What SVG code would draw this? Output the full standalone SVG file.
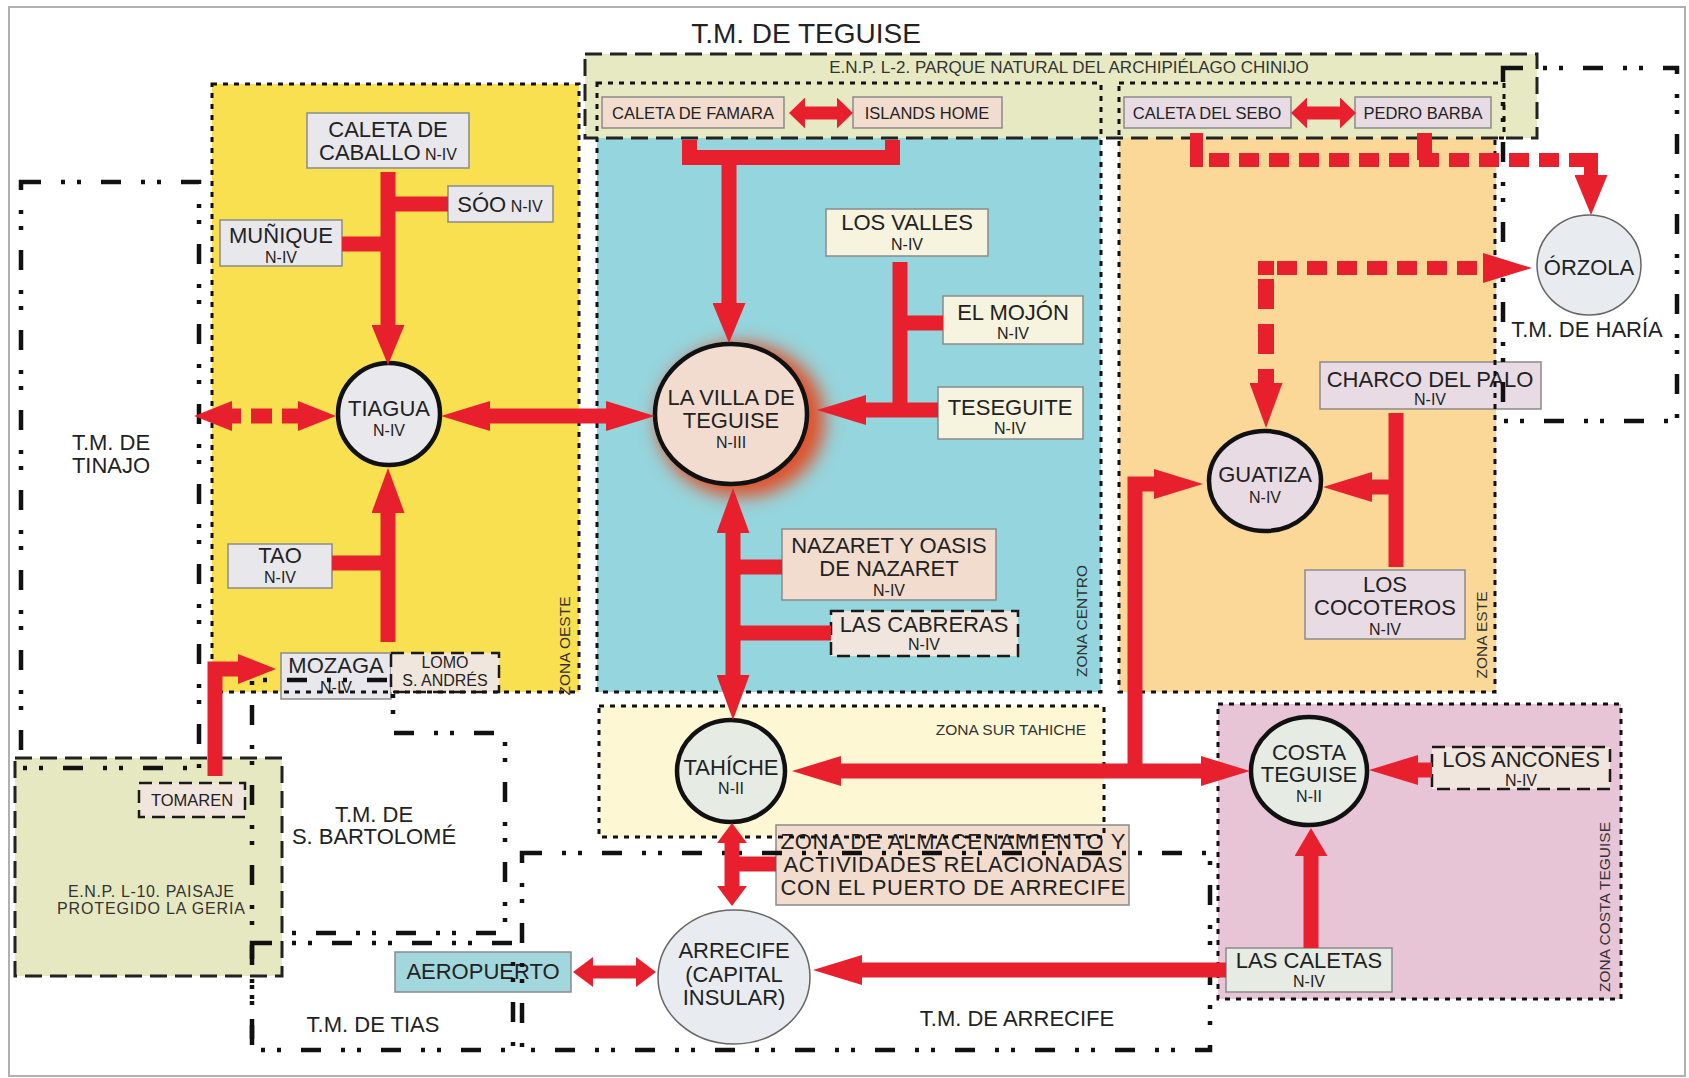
<svg xmlns="http://www.w3.org/2000/svg" width="1689" height="1078" viewBox="0 0 1689 1078">
<defs>
<style>
.t{font-family:"Liberation Sans",Arial,sans-serif;fill:#222;text-anchor:middle;font-size:22px}
.s{font-size:16px}
.m{font-size:16.5px}
.z{font-family:"Liberation Sans",Arial,sans-serif;fill:#333;font-size:15.5px;text-anchor:middle}
.box{stroke:#8a8a8a;stroke-width:1.5}
.dbox{stroke:#1a1a1a;stroke-width:2.5;stroke-dasharray:13 7}
.circ{stroke:#111;stroke-width:4.5}
.thin{stroke:#666;stroke-width:1.5}
.gray{fill:#e8e7ec}.cream{fill:#f6f3de}.peach{fill:#f2dccd}.lpeach{fill:#f1e6dd}
.pink{fill:#e9dbe4}.green{fill:#e6ece4}.teal{fill:#a3d7de}.blue{fill:#e8ecf0}
.zb{fill:none;stroke:#111;stroke-width:3;stroke-dasharray:5 6}
.mb{fill:none;stroke:#111;stroke-width:4.5;stroke-dasharray:20 20 4 12 4 20}
.enp{fill:none;stroke:#222;stroke-width:3;stroke-dasharray:17 8}
.r{fill:none;stroke:#e8202e;stroke-width:15;stroke-linecap:butt;stroke-linejoin:miter}
.ah{fill:#e8202e}
</style>
<marker id="mL" markerUnits="userSpaceOnUse" viewBox="0 0 49 30" markerWidth="49" markerHeight="30" refX="0" refY="15" orient="auto-start-reverse"><path class="ah" d="M0,0 L49,15 L0,30 z"/></marker>
<marker id="mM" markerUnits="userSpaceOnUse" viewBox="0 0 40 33" markerWidth="40" markerHeight="33" refX="0" refY="16.5" orient="auto-start-reverse"><path class="ah" d="M0,0 L40,16.5 L0,33 z"/></marker>
<marker id="mD" markerUnits="userSpaceOnUse" viewBox="0 0 38 30" markerWidth="38" markerHeight="30" refX="0" refY="15" orient="auto-start-reverse"><path class="ah" d="M0,0 L38,15 L0,30 z"/></marker>
<marker id="mV" markerUnits="userSpaceOnUse" viewBox="0 0 45 33" markerWidth="45" markerHeight="33" refX="0" refY="16.5" orient="auto-start-reverse"><path class="ah" d="M0,0 L45,16.5 L0,33 z"/></marker>
<marker id="mS" markerUnits="userSpaceOnUse" viewBox="0 0 20 30" markerWidth="20" markerHeight="30" refX="0" refY="15" orient="auto-start-reverse"><path class="ah" d="M0,0 L20,15 L0,30 z"/></marker>
<marker id="mXS" markerUnits="userSpaceOnUse" viewBox="0 0 16 31" markerWidth="16" markerHeight="31" refX="0" refY="15.5" orient="auto-start-reverse"><path class="ah" d="M0,0 L16,15.5 L0,31 z"/></marker>
<marker id="mC" markerUnits="userSpaceOnUse" viewBox="0 0 28 33" markerWidth="28" markerHeight="33" refX="0" refY="16.5" orient="auto-start-reverse"><path class="ah" d="M0,0 L28,16.5 L0,33 z"/></marker>
<filter id="glow" x="-40%" y="-40%" width="180%" height="180%"><feGaussianBlur stdDeviation="9"/></filter>
</defs>

<rect x="0" y="0" width="1689" height="1078" fill="#fff"/>
<rect x="9" y="7" width="1676" height="1069" fill="#fff" stroke="#b0b0b0" stroke-width="2"/>

<g id="zone-fills">
<rect x="212" y="84" width="367" height="608" fill="#f9e050"/>
<rect x="597" y="83" width="504" height="609" fill="#95d5dd"/>
<rect x="1119" y="83" width="377" height="609" fill="#fbd898"/>
<rect x="599" y="706" width="505" height="131" fill="#fdf7d3"/>
<rect x="1218" y="704" width="403" height="295" fill="#e7c5d7"/>
<rect x="585" y="54" width="952" height="84" fill="#e7e9c3"/>
<rect x="15" y="758" width="267" height="218" fill="#e5e8c0"/>
</g>

<text class="t" x="806" y="43" style="font-size:28px">T.M. DE TEGUISE</text>
<text class="t" x="1069" y="73" style="font-size:17px;fill:#333">E.N.P. L-2. PARQUE NATURAL DEL ARCHIPIÉLAGO CHINIJO</text>

<g id="nodes">
<g id="caleta-caballo"><rect class="box gray" x="307" y="113" width="162" height="55"/><text class="t" x="388" y="137">CALETA DE</text><text class="t" x="388" y="160">CABALLO<tspan class="s"> N-IV</tspan></text></g>
<g id="soo"><rect class="box gray" x="448" y="186" width="105" height="36"/><text class="t" x="500" y="212">SÓO<tspan class="s"> N-IV</tspan></text></g>
<g id="muñique"><rect class="box gray" x="220" y="220" width="122" height="46"/><text class="t" x="281" y="243">MUÑIQUE</text><text class="t s" x="281" y="263">N-IV</text></g>
<g id="tiagua"><circle class="circ" cx="389" cy="414" r="51" fill="#e9e8ed"/><text class="t" x="389" y="416">TIAGUA</text><text class="t s" x="389" y="436">N-IV</text></g>
<g id="tao"><rect class="box gray" x="228" y="544" width="104" height="44"/><text class="t" x="280" y="563">TAO</text><text class="t s" x="280" y="583">N-IV</text></g>
<g id="mozaga"><rect class="box gray" x="281" y="653" width="110" height="46"/><text class="t" x="336" y="673">MOZAGA</text><text class="t s" x="336" y="693">N-IV</text></g>
<g id="lomo"><rect class="dbox lpeach" x="391" y="653" width="108" height="39"/><text class="t s" x="445" y="668">LOMO</text><text class="t s" x="445" y="686">S. ANDRÉS</text></g>
<g id="tomaren"><rect class="dbox lpeach" x="139" y="783" width="106" height="34"/><text class="t m" x="192" y="806">TOMAREN</text></g>
<g id="caleta-famara"><rect class="box peach" x="602" y="97" width="182" height="31"/><text class="t m" x="693" y="119">CALETA DE FAMARA</text></g>
<g id="islands-home"><rect class="box peach" x="853" y="97" width="149" height="31"/><text class="t m" x="927" y="119">ISLANDS HOME</text></g>
<g id="caleta-sebo"><rect class="box pink" x="1124" y="97" width="167" height="31"/><text class="t m" x="1207" y="119">CALETA DEL SEBO</text></g>
<g id="pedro-barba"><rect class="box pink" x="1355" y="97" width="136" height="31"/><text class="t m" x="1423" y="119">PEDRO BARBA</text></g>
<g id="los-valles"><rect class="box cream" x="826" y="209" width="162" height="47"/><text class="t" x="907" y="230">LOS VALLES</text><text class="t s" x="907" y="250">N-IV</text></g>
<g id="el-mojon"><rect class="box cream" x="943" y="296" width="140" height="48"/><text class="t" x="1013" y="320">EL MOJÓN</text><text class="t s" x="1013" y="339">N-IV</text></g>
<g id="teseguite"><rect class="box cream" x="938" y="387" width="145" height="52"/><text class="t" x="1010" y="415">TESEGUITE</text><text class="t s" x="1010" y="434">N-IV</text></g>
<g id="villa-teguise"><ellipse cx="741" cy="420" rx="84" ry="77" fill="#e0512b" filter="url(#glow)"/><ellipse class="circ" cx="731" cy="414" rx="76" ry="70" fill="#f2dccf"/><text class="t" x="731" y="405">LA VILLA DE</text><text class="t" x="731" y="428">TEGUISE</text><text class="t s" x="731" y="448">N-III</text></g>
<g id="nazaret"><rect class="box peach" x="782" y="529" width="214" height="71"/><text class="t" x="889" y="553">NAZARET Y OASIS</text><text class="t" x="889" y="576">DE NAZARET</text><text class="t s" x="889" y="596">N-IV</text></g>
<g id="las-cabreras"><rect class="dbox lpeach" x="831" y="611" width="187" height="45"/><text class="t" x="924" y="632">LAS CABRERAS</text><text class="t s" x="924" y="650">N-IV</text></g>
<g id="tahiche"><ellipse class="circ" cx="731" cy="771" rx="54" ry="51" fill="#e6ebe4"/><text class="t" x="731" y="775">TAHÍCHE</text><text class="t s" x="731" y="794">N-II</text></g>
<g id="zona-almacenamiento"><rect class="box peach" x="776" y="825" width="353" height="80"/><text class="t" x="953" y="849" textLength="345">ZONA DE ALMACENAMIENTO Y</text><text class="t" x="953" y="872" textLength="339">ACTIVIDADES RELACIONADAS</text><text class="t" x="953" y="895" textLength="345">CON EL PUERTO DE ARRECIFE</text></g>
<g id="arrecife"><ellipse class="thin" cx="734" cy="977" rx="76" ry="67" fill="#e8ecf0"/><text class="t" x="734" y="958">ARRECIFE</text><text class="t" x="734" y="982">(CAPITAL</text><text class="t" x="734" y="1005">INSULAR)</text></g>
<g id="aeropuerto"><rect class="box teal" x="395" y="952" width="176" height="40"/><text class="t" x="483" y="979">AEROPUERTO</text></g>
<g id="orzola"><ellipse class="thin" cx="1589" cy="265" rx="52" ry="50" fill="#e8ecf0"/><text class="t" x="1589" y="275">ÓRZOLA</text></g>
<g id="charco-palo"><rect class="box pink" x="1320" y="362" width="221" height="47"/><text class="t" x="1430" y="387">CHARCO DEL PALO</text><text class="t s" x="1430" y="405">N-IV</text></g>
<g id="guatiza"><ellipse class="circ" cx="1265" cy="481" rx="56" ry="50" fill="#e8dbe3"/><text class="t" x="1265" y="482">GUATIZA</text><text class="t s" x="1265" y="503">N-IV</text></g>
<g id="los-cocoteros"><rect class="box pink" x="1305" y="570" width="160" height="69"/><text class="t" x="1385" y="592">LOS</text><text class="t" x="1385" y="615">COCOTEROS</text><text class="t s" x="1385" y="635">N-IV</text></g>
<g id="costa-teguise"><ellipse class="circ" cx="1309" cy="771" rx="58" ry="54" fill="#e6ebe4"/><text class="t" x="1309" y="760">COSTA</text><text class="t" x="1309" y="782">TEGUISE</text><text class="t s" x="1309" y="802">N-II</text></g>
<g id="los-ancones"><rect class="dbox lpeach" x="1432" y="747" width="178" height="42"/><text class="t" x="1521" y="767">LOS ANCONES</text><text class="t s" x="1521" y="786">N-IV</text></g>
<g id="las-caletas"><rect class="box green" x="1226" y="948" width="166" height="44"/><text class="t" x="1309" y="968">LAS CALETAS</text><text class="t s" x="1309" y="987">N-IV</text></g>
</g>

<g id="boundaries">
<rect class="zb" x="212" y="84" width="367" height="608"/>
<rect class="zb" x="597" y="83" width="504" height="609"/>
<path class="zb" d="M1119,83 H1504 V138 H1495 V692 H1119 Z"/>
<rect class="zb" x="599" y="706" width="505" height="131"/>
<rect class="zb" x="1218" y="704" width="403" height="295"/>
<rect class="enp" x="585" y="54" width="952" height="84"/>
<rect class="enp" x="15" y="758" width="267" height="218"/>
<rect class="mb" x="21" y="182" width="178" height="586"/>
<rect class="mb" x="1503" y="68" width="174" height="353"/>
<path class="mb" d="M252,1045 V680 H393 V733 H505 V933 H283"/>
<rect class="mb" x="252" y="943" width="261" height="107"/>
<rect class="mb" x="522" y="853" width="688" height="197"/>
</g>

<g id="connectors">
<line class="r" x1="388" y1="172" x2="388" y2="325" marker-end="url(#mM)"/>
<line class="r" x1="388" y1="204" x2="448" y2="204"/>
<line class="r" x1="342" y1="244" x2="388" y2="244"/>
<line class="r" x1="232" y1="416" x2="298" y2="416" stroke-dasharray="9 10 21 10 16" marker-start="url(#mD)" marker-end="url(#mD)"/>
<line class="r" x1="490" y1="416" x2="606" y2="416" marker-start="url(#mL)" marker-end="url(#mL)"/>
<line class="r" x1="805" y1="113" x2="837" y2="113" style="stroke-width:13" marker-start="url(#mXS)" marker-end="url(#mXS)"/>
<path class="r" d="M689.5,140 V157.5 H892.5 V140"/>
<line class="r" x1="729" y1="157" x2="729" y2="303" marker-end="url(#mM)"/>
<path class="r" d="M900,262 V417"/>
<line class="r" x1="900" y1="323" x2="943" y2="323"/>
<line class="r" x1="938" y1="410" x2="866" y2="410" marker-end="url(#mL)"/>
<line class="r" x1="733" y1="533" x2="733" y2="675" marker-start="url(#mV)" marker-end="url(#mV)"/>
<line class="r" x1="733" y1="567" x2="782" y2="567"/>
<line class="r" x1="733" y1="633" x2="831" y2="633"/>
<line class="r" x1="732" y1="843" x2="732" y2="886" marker-start="url(#mS)" marker-end="url(#mS)"/>
<line class="r" x1="732" y1="864" x2="776" y2="864"/>
<line class="r" x1="841" y1="771" x2="1201" y2="771" marker-start="url(#mL)" marker-end="url(#mL)"/>
<path class="r" d="M1135,771 V484 H1154" marker-end="url(#mL)"/>
<path class="r" d="M1396,413 V567"/>
<line class="r" x1="1396" y1="487" x2="1372" y2="487" marker-end="url(#mL)"/>
<line class="r" x1="1432" y1="770" x2="1418" y2="770" marker-end="url(#mL)"/>
<line class="r" x1="1311" y1="948" x2="1311" y2="856" marker-end="url(#mC)"/>
<line class="r" x1="1226" y1="970" x2="862" y2="970" marker-end="url(#mL)"/>
<line class="r" x1="593" y1="972" x2="636" y2="972" style="stroke-width:13" marker-start="url(#mS)" marker-end="url(#mS)"/>
<path class="r" d="M215,776 V669 H238" marker-end="url(#mD)"/>
<line class="r" x1="388" y1="642" x2="388" y2="513" marker-end="url(#mV)"/>
<line class="r" x1="332" y1="563" x2="388" y2="563"/>
<line class="r" x1="1307" y1="113" x2="1340" y2="113" style="stroke-width:13" marker-start="url(#mXS)" marker-end="url(#mXS)"/>
<path class="r" d="M1196.5,133 V167" style="stroke-width:13"/>
<path class="r" d="M1424.5,133 V160" style="stroke-width:15"/>
<line class="r" x1="1209" y1="160" x2="1590" y2="160" style="stroke-width:14" stroke-dasharray="20 10"/>
<line class="r" x1="1591" y1="153" x2="1591" y2="175" style="stroke-width:14" marker-end="url(#mM)"/>
<line class="r" x1="1258" y1="268" x2="1483" y2="268" style="stroke-width:14" stroke-dasharray="20 10" stroke-dashoffset="11" marker-end="url(#mL)"/>
<line class="r" x1="1266" y1="279" x2="1266" y2="383" style="stroke-width:16" stroke-dasharray="30 15" marker-end="url(#mV)"/>
<rect class="ah" x="1258" y="261" width="16" height="14"/>
</g>

<g id="labels">
<text class="z" transform="translate(570,646) rotate(-90)">ZONA OESTE</text>
<text class="z" transform="translate(1087,621) rotate(-90)">ZONA CENTRO</text>
<text class="z" transform="translate(1487,635) rotate(-90)">ZONA ESTE</text>
<text class="z" transform="translate(1610,907) rotate(-90)">ZONA COSTA TEGUISE</text>
<text class="z" x="1086" y="735" style="text-anchor:end">ZONA SUR TAHICHE</text>
<text class="t" x="111" y="450">T.M. DE</text>
<text class="t" x="111" y="473">TINAJO</text>
<text class="t" x="1587" y="337">T.M. DE HARÍA</text>
<text class="t" x="374" y="822">T.M. DE</text>
<text class="t" x="374" y="844">S. BARTOLOMÉ</text>
<text class="t" x="373" y="1032">T.M. DE TIAS</text>
<text class="t" x="1017" y="1026">T.M. DE ARRECIFE</text>
<text class="t" x="151" y="897" style="font-size:16px;fill:#333" textLength="166">E.N.P. L-10. PAISAJE</text>
<text class="t" x="151" y="914" style="font-size:16px;fill:#333" textLength="188">PROTEGIDO LA GERIA</text>
</g>
</svg>
